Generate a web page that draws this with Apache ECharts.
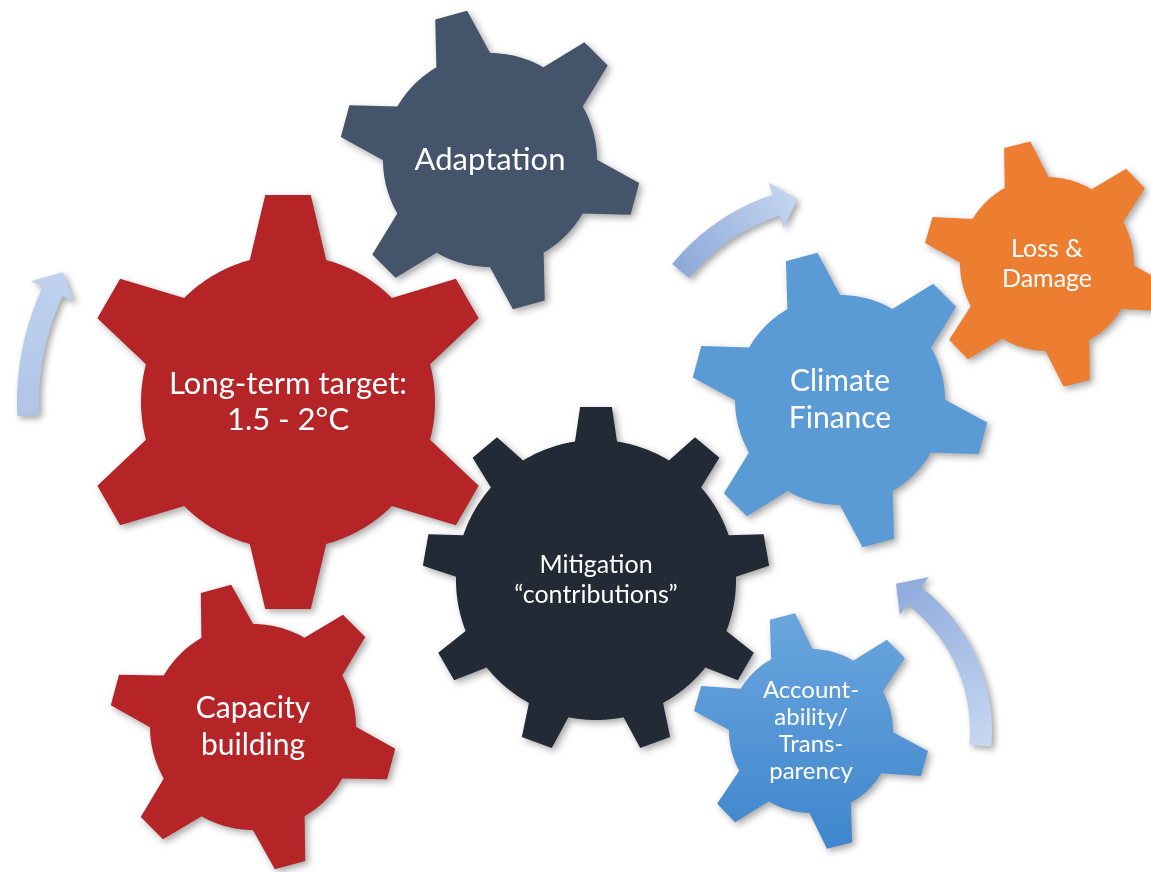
<!DOCTYPE html>
<html><head><meta charset="utf-8">
<script src="https://cdn.jsdelivr.net/npm/echarts@6/dist/echarts.min.js"></script>
<style>html,body{margin:0;padding:0;background:#fff}#c{width:1151px;height:872px}</style>
</head><body><div id="c"></div>
<script>
// Gear diagram data
const gearLabels = ['Long-term target:\n1.5 - 2°C', 'Adaptation', 'Mitigation\n\u201Ccontributions\u201D', 'Climate\nFinance', 'Loss &\nDamage', 'Account-\nability/\nTrans-\nparency', 'Capacity\nbuilding'];
const gearX = [288, 490, 596, 840, 1047, 811, 253];
const gearY = [402, 160, 580, 400, 264, 731, 727];
const gearOuterR = [207, 150, 173, 148, 123, 118, 143];
const gearInnerR = [147, 107, 140, 105, 87, 82, 103];
const gearTeeth = [6, 6, 9, 6, 6, 6, 6];
const gearAngle = [30, 105, 90, 105, 104, 104, 105];

// Curved arrows (arc centre, radius, start angle, tip angle; degrees, counter-clockwise positive)
const arrowX = [288, 840, 811];
const arrowY = [402, 400, 731];
const arrowR = [260, 205, 170];
const arrowFrom = [183, 141, -5];
const arrowTo = [150, 102, 60];

// styles
const gearColors = ['#B52427', '#44546A', '#222A35', '#5B9BD5', '#ED7D31',
  {type:'linear', x:0, y:0, x2:0, y2:1, colorStops:[{offset:0,color:'#6AA6DE'},{offset:1,color:'#3F86CD'}]},
  '#B52427'];
const gearFont = [31, 31, 25, 30, 25, 24, 30];
const gearLine = [36, 34, 30, 37, 30, 27, 37];
const arrowStops = [['#AFC5E7', '#C0D2EE'], ['#8EA9DA', '#C4D6EF'], ['#C6D7F0', '#8FABDC']];

const chart = echarts.init(document.getElementById('c'), null, {renderer: 'canvas'});
const d2r = Math.PI / 180;

function gearPoints(cx, cy, R, r, n, a0) {
  const tipHalf = n >= 9 ? 0.092 * R : 0.11 * R;
  const baseHalf = n >= 9 ? 0.15 * r : 0.26 * r;
  const bh = Math.asin(baseHalf / r);
  const pts = [];
  const P = (ang, rad) => [cx + rad * Math.cos(ang), cy - rad * Math.sin(ang)];
  for (let i = 0; i < n; i++) {
    const a = (a0 + i * 360 / n) * d2r;
    const ux = Math.cos(a), uy = -Math.sin(a);
    const px = -uy, py = ux;
    pts.push(P(a - bh, r));
    pts.push([cx + R * ux + tipHalf * px, cy + R * uy + tipHalf * py]);
    pts.push([cx + R * ux - tipHalf * px, cy + R * uy - tipHalf * py]);
    pts.push(P(a + bh, r));
    const next = (a0 + (i + 1) * 360 / n) * d2r - bh;
    const start = a + bh;
    const steps = 24;
    for (let k = 1; k < steps; k++) {
      pts.push(P(start + (next - start) * k / steps, r));
    }
  }
  return pts;
}

function arrowPoints(cx, cy, R, from, to, w, hw, hl) {
  const dir = to > from ? 1 : -1;
  const headAng = (hl / R) / d2r;
  const hb = to - dir * headAng;
  const P = (ang, rad) => [cx + rad * Math.cos(ang * d2r), cy - rad * Math.sin(ang * d2r)];
  const pts = [];
  const steps = 40;
  for (let k = 0; k <= steps; k++) pts.push(P(from + (hb - from) * k / steps, R + w / 2));
  pts.push(P(hb, R + hw / 2));
  pts.push(P(to, R));
  pts.push(P(hb, R - hw / 2));
  for (let k = steps; k >= 0; k--) pts.push(P(from + (hb - from) * k / steps, R - w / 2));
  return pts;
}

const option = {
  animation: false,
  backgroundColor: '#ffffff',
  grid: {left: 0, right: 0, top: 0, bottom: 0},
  xAxis: {type: 'value', min: 0, max: 1151, show: false},
  yAxis: {type: 'value', min: 0, max: 872, inverse: true, show: false},
  series: [
    {
      type: 'custom',
      coordinateSystem: 'cartesian2d',
      data: arrowX.map((x, i) => [x, arrowY[i], arrowR[i], arrowFrom[i], arrowTo[i]]),
      renderItem(params, api) {
        const i = params.dataIndex;
        const c = api.coord([api.value(0), api.value(1)]);
        const R = api.size([api.value(2), 0])[0];
        const from = api.value(3), to = api.value(4);
        const pts = arrowPoints(c[0], c[1], R, from, to, 22, 48, 22);
        const s = [c[0] + R * Math.cos(from * d2r), c[1] - R * Math.sin(from * d2r)];
        const e = [c[0] + R * Math.cos(to * d2r), c[1] - R * Math.sin(to * d2r)];
        return {
          type: 'polygon',
          shape: {points: pts},
          style: {
            fill: {type: 'linear', x: s[0], y: s[1], x2: e[0], y2: e[1], global: true,
              colorStops: [{offset: 0, color: arrowStops[i][0]}, {offset: 1, color: arrowStops[i][1]}]},
            shadowBlur: 6, shadowOffsetX: 3, shadowOffsetY: 3, shadowColor: 'rgba(0,0,0,0.35)'
          }
        };
      }
    },
    {
      type: 'custom',
      coordinateSystem: 'cartesian2d',
      data: gearX.map((x, i) => [x, gearY[i], gearOuterR[i], gearInnerR[i], gearTeeth[i], gearAngle[i]]),
      renderItem(params, api) {
        const i = params.dataIndex;
        const c = api.coord([api.value(0), api.value(1)]);
        const R = api.size([api.value(2), 0])[0];
        const r = api.size([api.value(3), 0])[0];
        const pts = gearPoints(c[0], c[1], R, r, api.value(4), api.value(5));
        return {
          type: 'group',
          children: [
            {
              type: 'polygon',
              shape: {points: pts},
              style: {fill: gearColors[i], shadowBlur: 7, shadowOffsetX: 3, shadowOffsetY: 3, shadowColor: 'rgba(0,0,0,0.35)'}
            },
            {
              type: 'text',
              style: {
                text: gearLabels[i], x: c[0], y: c[1], align: 'center', verticalAlign: 'middle',
                fill: '#ffffff', fontFamily: 'Lato', fontSize: gearFont[i], lineHeight: gearLine[i]
              }
            }
          ]
        };
      }
    }
  ]
};
chart.setOption(option);
</script>
</body></html>
